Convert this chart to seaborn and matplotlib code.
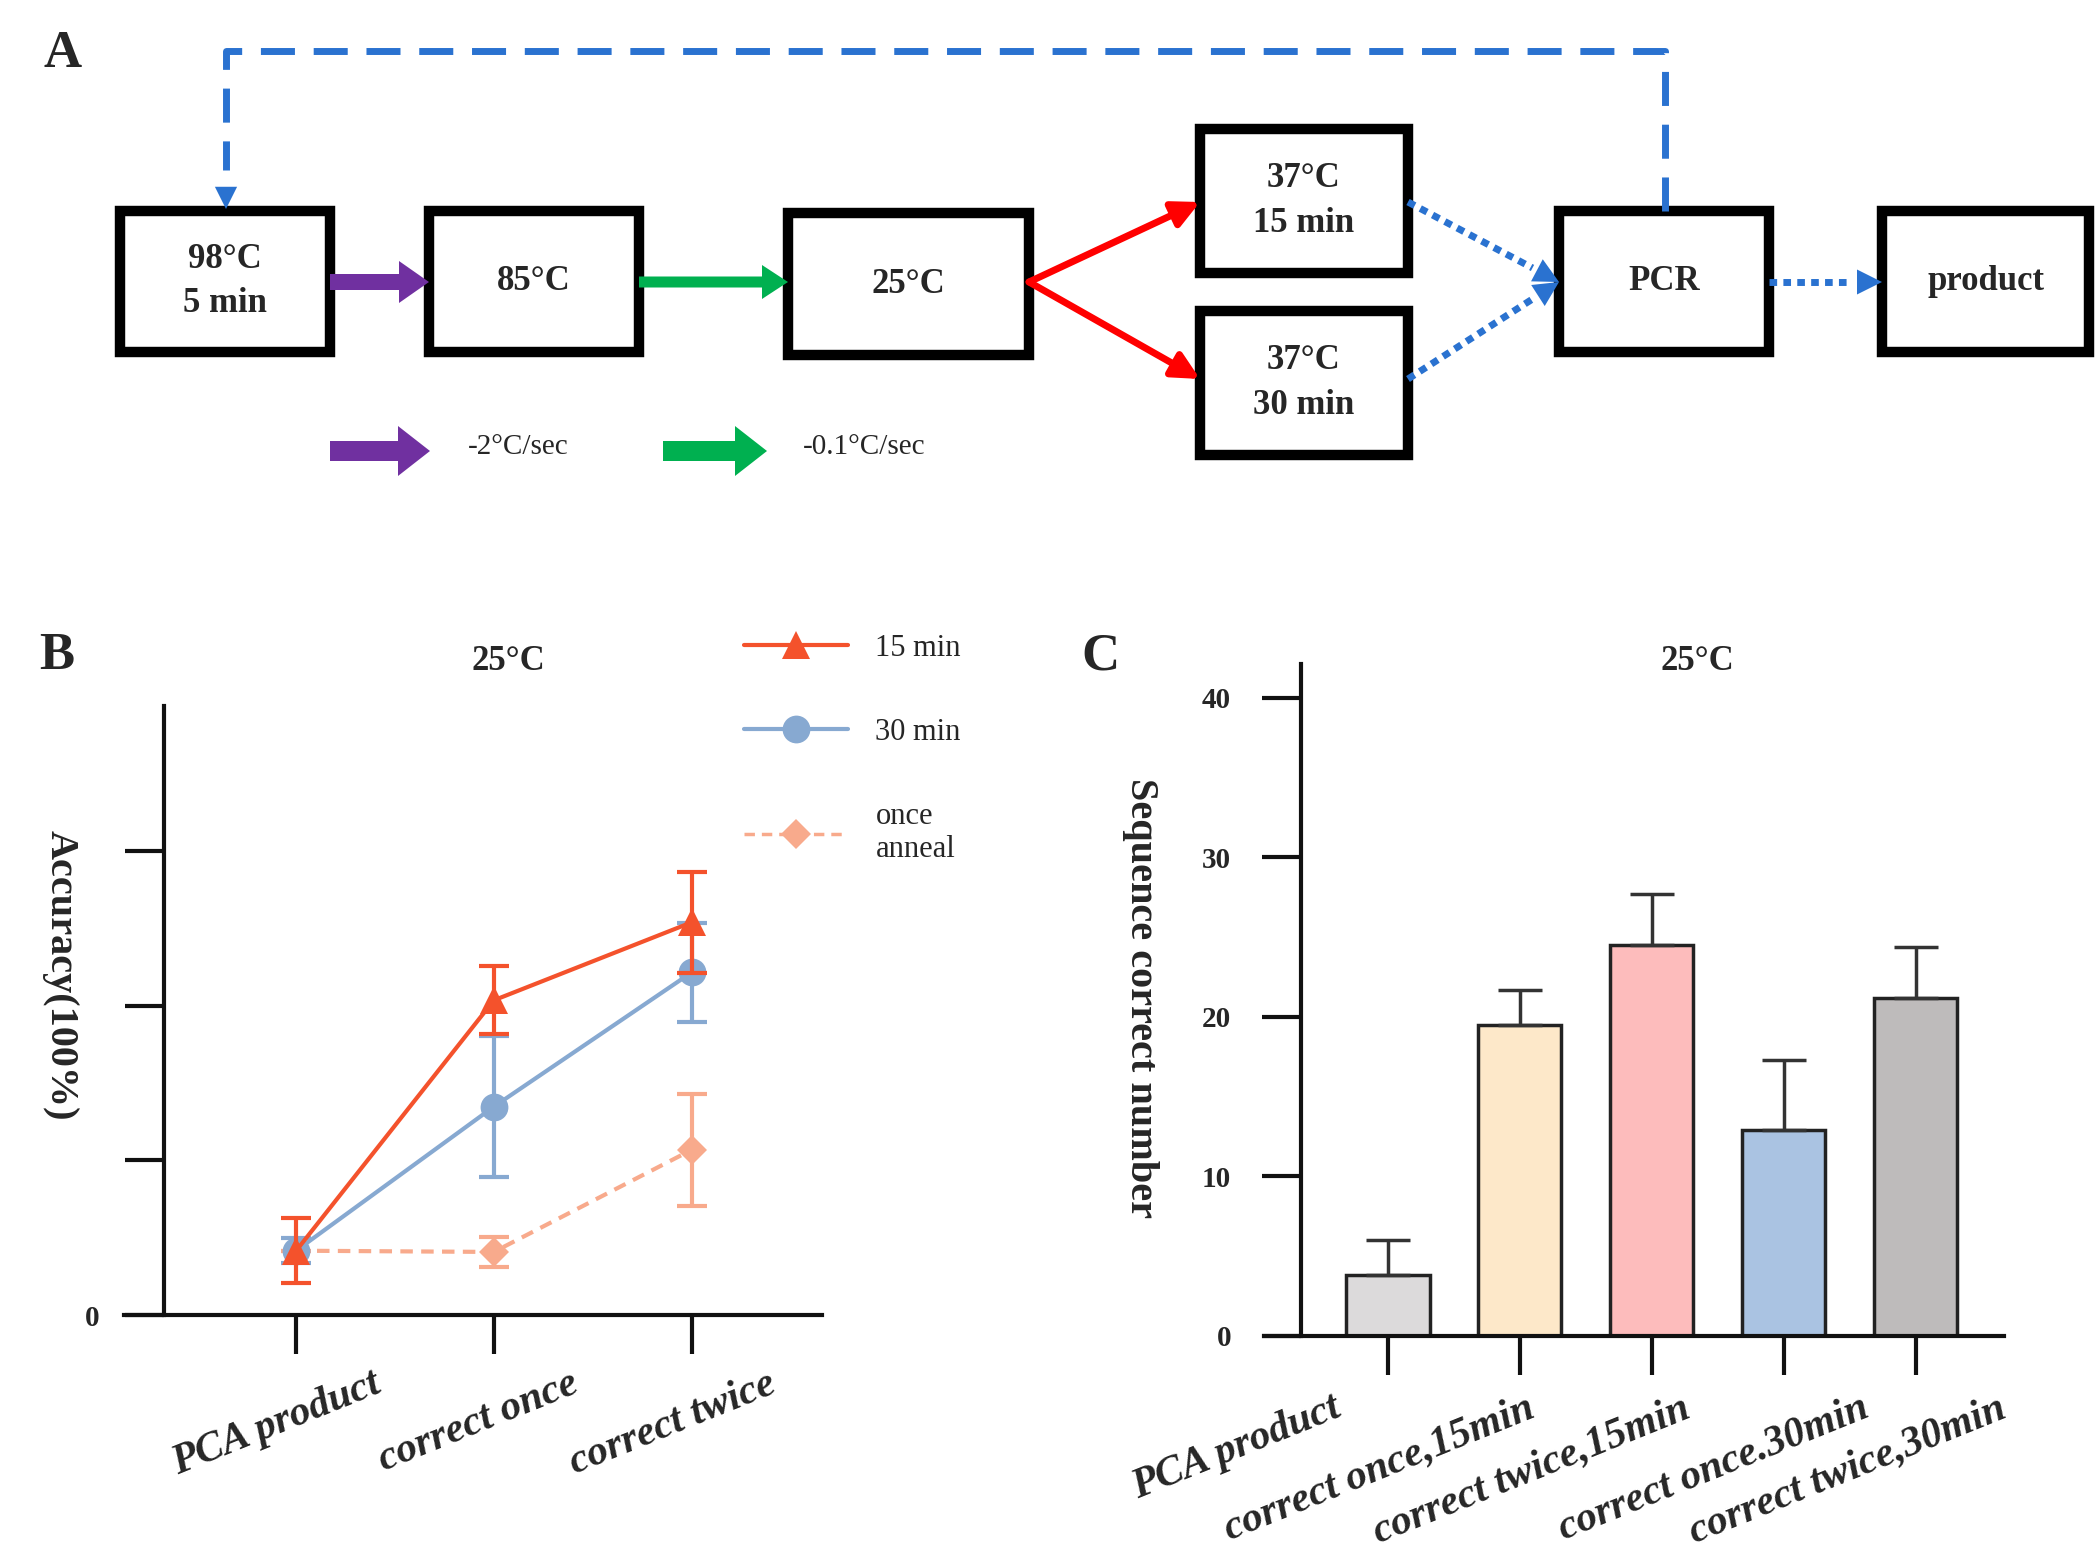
import numpy as np
import pandas as pd
import matplotlib
matplotlib.use("Agg")
import matplotlib.pyplot as plt
import matplotlib.transforms as mtransforms
import seaborn as sns
from matplotlib.lines import Line2D
from matplotlib.patches import Rectangle

# ---- data ----
stages_b = ["PCA product", "correct once", "correct twice"]
acc_15min = [10.4, 50.9, 63.5]
err_15min = [5.3, 5.5, 8.2]
acc_30min = [10.4, 33.7, 55.4]
err_30min = [2.0, 11.4, 8.0]
acc_once = [10.4, 10.2, 26.7]
err_once = [0.0, 2.4, 9.1]

groups_c = ["PCA product", "correct once,15min", "correct twice,15min",
            "correct once.30min", "correct twice,30min"]
seq_correct = [3.8, 19.5, 24.5, 12.9, 21.2]
seq_err_up = [2.2, 2.2, 3.2, 4.4, 3.2]
bar_colors = ["#dcdadb", "#fde8c9", "#fdbcbc", "#aac3e2", "#bebbbb"]

sns.set_theme(style="white")
plt.rcParams["font.family"] = ["Liberation Serif", "DejaVu Serif"]

W, H = 2098, 1568
fig = plt.figure(figsize=(W / 100, H / 100), dpi=100)

# ---- panel A: flow diagram in pixel coords ----
axa = fig.add_axes([0, 0, 1, 1], zorder=0)
axa.set_xlim(0, W)
axa.set_ylim(H, 0)
axa.axis("off")

blue = "#2a72d0"
boxes = {
    "98": (120, 211, 210, 141, "98°C\n5 min"),
    "85": (429, 211, 210, 141, "85°C"),
    "25": (788, 213, 241, 142, "25°C"),
    "15": (1200, 129, 208, 144, "37°C\n15 min"),
    "30": (1200, 311, 208, 144, "37°C\n30 min"),
    "pcr": (1559, 211, 210, 141, "PCR"),
    "prod": (1882, 211, 207, 141, "product"),
}
for x, y, w, h, txt in boxes.values():
    axa.add_patch(Rectangle((x, y), w, h, fill=False, lw=7.5, ec="black"))
    axa.text(x + w / 2, y + h / 2, txt, ha="center", va="center", fontsize=25,
             fontweight="bold", linespacing=1.45)

# fat arrows
axa.arrow(330, 282, 99, 0, width=16, head_width=42, head_length=30,
          length_includes_head=True, color="#7030a0", lw=0)
axa.arrow(639, 282, 149, 0, width=11, head_width=34, head_length=26,
          length_includes_head=True, color="#00b050", lw=0)
axa.arrow(330, 451, 100, 0, width=20, head_width=50, head_length=32,
          length_includes_head=True, color="#7030a0", lw=0)
axa.arrow(663, 451, 104, 0, width=20, head_width=50, head_length=32,
          length_includes_head=True, color="#00b050", lw=0)
axa.text(468, 447, "-2°C/sec", ha="left", va="center", fontsize=21)
axa.text(803, 447, "-0.1°C/sec", ha="left", va="center", fontsize=21)

# red split arrows
for ty in (202, 379):
    axa.annotate("", xy=(1200, ty), xytext=(1029, 282),
                 arrowprops=dict(arrowstyle="-|>", lw=5, color="#ff0000",
                                 mutation_scale=40, shrinkA=0, shrinkB=0))

# blue dotted arrows
def dotted_arrow(x0, y0, x1, y1):
    v = np.array([x1 - x0, y1 - y0], float)
    v /= np.hypot(*v)
    xm, ym = x1 - 30 * v[0], y1 - 30 * v[1]
    axa.plot([x0, xm], [y0, ym], color=blue, lw=5, dashes=(1.1, 0.9),
             solid_capstyle="butt")
    axa.annotate("", xy=(x1, y1), xytext=(xm - 2 * v[0], ym - 2 * v[1]),
                 arrowprops=dict(arrowstyle="-|>", lw=0, color=blue,
                                 mutation_scale=45, shrinkA=0, shrinkB=0))

dotted_arrow(1408, 202, 1559, 282)
dotted_arrow(1408, 379, 1559, 282)
dotted_arrow(1769, 282, 1882, 282)

# dashed feedback loop
axa.plot([1665, 1665, 226, 226], [211, 51, 51, 170], color=blue, lw=5,
         dashes=(4.9, 2.7))
axa.annotate("", xy=(226, 209), xytext=(226, 170),
             arrowprops=dict(arrowstyle="-|>", lw=0, color=blue,
                             mutation_scale=40, shrinkA=0, shrinkB=0))

# panel letters / titles
for x, y, s in [(63, 54, "A"), (57, 656, "B"), (1100, 656, "C")]:
    fig.text(x / W, 1 - y / H, s, ha="center", va="center", fontsize=38,
             fontweight="bold")
for x in (508, 1697):
    fig.text(x / W, 1 - 662 / H, "25°C", ha="center", va="center",
             fontsize=25, fontweight="bold")

# ---- panel B ----
axb = fig.add_axes([124 / W, 1 - 1315 / H, 698 / W, 609 / H], zorder=1)
axb.patch.set_alpha(0)
axb.spines["left"].set_position(("data", -0.667))
xpos = np.arange(len(stages_b))
c15, c30, conce = "#f4522c", "#87a9d1", "#f8aa8c"

sns.lineplot(x=xpos, y=acc_once, ax=axb, color=conce, lw=3, marker="D",
             markersize=15, markeredgewidth=0, linestyle=(0, (3, 2)))
axb.errorbar(xpos, acc_once, yerr=err_once, fmt="none", ecolor=conce,
             elinewidth=3, capsize=11, capthick=3)
sns.lineplot(x=xpos, y=acc_30min, ax=axb, color=c30, lw=3, marker="o",
             markersize=20, markeredgewidth=0)
axb.errorbar(xpos, acc_30min, yerr=err_30min, fmt="none", ecolor=c30,
             elinewidth=3, capsize=11, capthick=3)
sns.lineplot(x=xpos, y=acc_15min, ax=axb, color=c15, lw=3, marker="^",
             markersize=20, markeredgewidth=0)
axb.errorbar(xpos, acc_15min, yerr=err_15min, fmt="none", ecolor=c15,
             elinewidth=3, capsize=11, capthick=3)

axb.set_xlim(-0.871, 2.66)
axb.set_ylim(0, 98.5)
axb.set_yticks([0, 25, 50, 75])
axb.set_yticklabels(["0", "", "", ""], fontsize=21, fontweight="bold")
axb.set_xticks(xpos)
axb.set_xticklabels(stages_b, fontsize=30, fontweight="bold", style="italic",
                    rotation=22, ha="right", va="top", rotation_mode="anchor")
axb.set_xlabel("")
axb.set_ylabel("")

legend_handles = [
    Line2D([0], [0], color=c15, lw=3, marker="^", markersize=20, mew=0),
    Line2D([0], [0], color=c30, lw=3, marker="o", markersize=20, mew=0),
    Line2D([0], [0], color=conce, lw=2.5, marker="D", markersize=15, mew=0,
           linestyle=(0, (3, 2))),
]
fig.legend(legend_handles, ["15 min", "30 min", "once\nanneal"],
           loc="upper left", bbox_to_anchor=(744 / W, 1 - 634 / H),
           frameon=False, fontsize=22, handlelength=3.4, handletextpad=0.9,
           labelspacing=1.8, borderpad=0, borderaxespad=0)
fig.text(60 / W, 1 - 975 / H, "Accuracy(100%)", rotation=270, ha="center",
         va="center", fontsize=29, fontweight="bold")

# ---- panel C ----
axc = fig.add_axes([1264 / W, 1 - 1336 / H, 740 / W, 672 / H], zorder=1)
axc.patch.set_alpha(0)
axc.spines["left"].set_position(("data", -0.663))
df_c = pd.DataFrame({"group": groups_c, "count": seq_correct})
sns.barplot(data=df_c, x="group", y="count", hue="group", palette=bar_colors,
            saturation=1, width=0.63, edgecolor="#222222", linewidth=2.5,
            legend=False, ax=axc)
axc.errorbar(np.arange(len(groups_c)), seq_correct,
             yerr=[np.zeros(len(groups_c)), seq_err_up], fmt="none",
             ecolor="#333333", elinewidth=2.5, capsize=16, capthick=2.5)
axc.set_xlim(-0.94, 4.67)
axc.set_ylim(0, 42.1)
axc.set_yticks([0, 10, 20, 30, 40])
axc.set_yticklabels(["0", "10", "20", "30", "40"], fontsize=21,
                    fontweight="bold")
axc.set_xticks(np.arange(len(groups_c)))
axc.set_xticklabels(groups_c, fontsize=30, fontweight="bold", style="italic",
                    rotation=22, ha="right", va="top", rotation_mode="anchor")
axc.set_xlabel("")
axc.set_ylabel("")
fig.text(1141 / W, 1 - 998 / H, "Sequence correct number", rotation=270,
         ha="center", va="center", fontsize=29, fontweight="bold")

for ax in (axb, axc):
    for side in ("top", "right"):
        ax.spines[side].set_visible(False)
    for side in ("left", "bottom"):
        ax.spines[side].set_linewidth(3)
        ax.spines[side].set_color("#111111")
    ax.tick_params(axis="both", direction="out", length=28, width=3,
                   color="#111111", bottom=True, left=True)
axb.tick_params(axis="y", pad=19)
axb.tick_params(axis="x", pad=8)
axc.tick_params(axis="y", pad=22)
axc.tick_params(axis="x", pad=10)

# shift rotated tick labels to the right of the ticks
for lab in axb.get_xticklabels():
    lab.set_transform(lab.get_transform() +
                      mtransforms.ScaledTranslation(0.76, 0, fig.dpi_scale_trans))
for lab, dx in zip(axc.get_xticklabels(), [-56, 6, 29, 76, 81]):
    lab.set_transform(lab.get_transform() +
                      mtransforms.ScaledTranslation(dx / 100, 0, fig.dpi_scale_trans))

fig.savefig("out.png", dpi=100)
